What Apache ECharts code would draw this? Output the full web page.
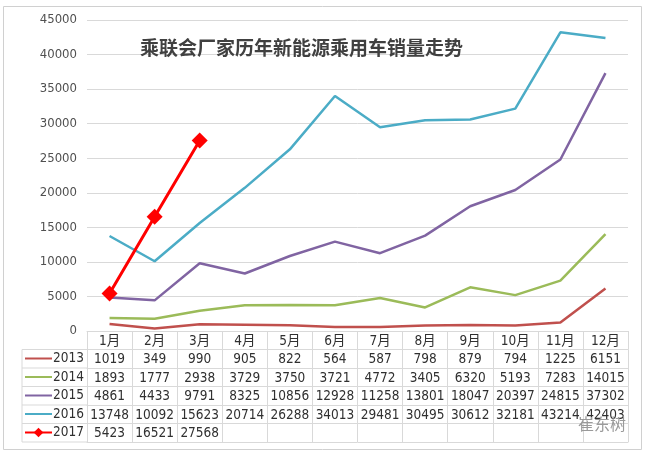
<!DOCTYPE html>
<html>
<head>
<meta charset="utf-8">
<title>乘联会厂家历年新能源乘用车销量走势</title>
<script src="https://cdn.jsdelivr.net/npm/echarts@6/dist/echarts.min.js"></script>
<style>
    html, body { margin: 0; padding: 0; background: #fff; }
    #main { width: 650px; height: 457px; }
</style>
</head>
<body>
<div id="main"></div>
<script>
// 数据
var months = ['1月', '2月', '3月', '4月', '5月', '6月', '7月', '8月', '9月', '10月', '11月', '12月']
var years = ['2013', '2014', '2015', '2016', '2017']
var sales2013 = [1019, 349, 990, 905, 822, 564, 587, 798, 879, 794, 1225, 6151]
var sales2014 = [1893, 1777, 2938, 3729, 3750, 3721, 4772, 3405, 6320, 5193, 7283, 14015]
var sales2015 = [4861, 4433, 9791, 8325, 10856, 12928, 11258, 13801, 18047, 20397, 24815, 37302]
var sales2016 = [13748, 10092, 15623, 20714, 26288, 34013, 29481, 30495, 30612, 32181, 43214, 42403]
var sales2017 = [5423, 16521, 27568]
var yTicks = { min: 0, max: 45000, interval: 5000 }

var colors = ['#C0504D', '#9BBB59', '#8064A2', '#4BACC6', '#FF0000']
var allSales = [sales2013, sales2014, sales2015, sales2016, sales2017]

var FONT = "'Liberation Sans Narrow', 'DejaVu Sans Condensed', 'Noto Sans CJK SC', sans-serif"
var gridLine = '#D9D9D9'
var textColor = '#303030'
var rowH = 18.5
var gridLeft = 87, gridRight = 628, axisY = 331
var tableLeft = 22

var chart = echarts.init(document.getElementById('main'))

// 数据表：每一行用一条偏移的类目轴画
var xAxes = [{
    type: 'category',
    data: months,
    position: 'bottom',
    boundaryGap: true,
    axisLine: { show: true, lineStyle: { color: gridLine, width: 1 } },
    axisTick: { show: true, interval: 0, length: rowH, lineStyle: { color: gridLine } },
    axisLabel: { interval: 0, margin: 3, fontSize: 13.5, lineHeight: 14, color: textColor, fontFamily: FONT }
}]
allSales.forEach(function (arr, i) {
    xAxes.push({
        type: 'category',
        data: months.map(function (m, j) { return arr[j] == null ? '' : String(arr[j]) }),
        position: 'bottom',
        offset: rowH * (i + 1),
        axisLine: { show: true, lineStyle: { color: gridLine, width: 1 } },
        axisTick: { show: true, interval: 0, length: rowH, lineStyle: { color: gridLine } },
        axisLabel: { interval: 0, margin: 3, fontSize: 13.5, lineHeight: 14, color: textColor, fontFamily: FONT },
        splitLine: { show: false }
    })
})
// 表格底边
xAxes.push({
    type: 'category',
    data: months,
    position: 'bottom',
    offset: rowH * 6,
    axisLine: { show: true, lineStyle: { color: gridLine, width: 1 } },
    axisTick: { show: false },
    axisLabel: { show: false }
})

var series = years.map(function (y, i) {
    var is2017 = y === '2017'
    return {
        name: y,
        type: 'line',
        xAxisIndex: 0,
        data: allSales[i],
        symbol: is2017 ? 'diamond' : 'none',
        symbolSize: 16,
        showSymbol: is2017,
        itemStyle: { color: colors[i] },
        lineStyle: { color: colors[i], width: is2017 ? 3 : 2.5 },
        emphasis: { disabled: true },
        animation: false
    }
})

// 图例：只有2017带菱形标记
var legendData = years.map(function (y) {
    if (y === '2017') return { name: y }
    return { name: y, itemStyle: { opacity: 0 } }
})

// 左侧图例栏的表格线
var leftCells = []
var tableTop = axisY + rowH
var tableBottom = axisY + rowH * 6
leftCells.push({
    type: 'polyline',
    shape: { points: [[gridLeft, tableTop], [tableLeft, tableTop], [tableLeft, tableBottom], [gridLeft, tableBottom]] },
    style: { stroke: gridLine, lineWidth: 1, fill: null }
})
for (var r = 2; r <= 5; r++) {
    leftCells.push({
        type: 'line',
        shape: { x1: tableLeft, y1: axisY + rowH * r, x2: gridLeft, y2: axisY + rowH * r },
        style: { stroke: gridLine, lineWidth: 1 }
    })
}

chart.setOption({
    backgroundColor: '#fff',
    animation: false,
    color: colors,
    title: {
        text: '乘联会厂家历年新能源乘用车销量走势',
        left: 135,
        top: 33,
        textStyle: { fontSize: 19, fontWeight: 'bold', color: '#404040', fontFamily: "'Noto Sans CJK SC', sans-serif" }
    },
    legend: {
        orient: 'vertical',
        left: 24,
        top: tableTop + 2,
        itemWidth: 27,
        itemHeight: 12,
        itemGap: rowH - 14,
        padding: 0,
        selectedMode: false,
        textStyle: { fontSize: 13.5, lineHeight: 14, height: 14, color: textColor, fontFamily: FONT, padding: [0, 0, 0, -4] },
        data: legendData
    },
    grid: {
        left: gridLeft,
        right: 650 - gridRight,
        top: 20,
        bottom: 457 - axisY
    },
    xAxis: xAxes,
    yAxis: {
        type: 'value',
        min: yTicks.min,
        max: yTicks.max,
        interval: yTicks.interval,
        axisLine: { show: false },
        axisTick: { show: false },
        axisLabel: {
            margin: 10, fontSize: 13, color: '#505050', fontFamily: FONT,
            formatter: function (v) { return String(v) }
        },
        splitLine: { lineStyle: { color: gridLine, width: 1 } }
    },
    series: series,
    graphic: leftCells.concat([
        {
            type: 'rect',
            shape: { x: 3.5, y: 6.5, width: 638, height: 443 },
            style: { stroke: '#D0D0D0', lineWidth: 1, fill: null },
            z: -1
        },
        {
            type: 'text',
            left: 578,
            top: 416,
            style: { text: '崔东树', fontSize: 16, fill: '#9a9a9a', fontFamily: "'Noto Sans CJK SC', sans-serif" },
            z: 10
        }
    ])
})
</script>
</body>
</html>
